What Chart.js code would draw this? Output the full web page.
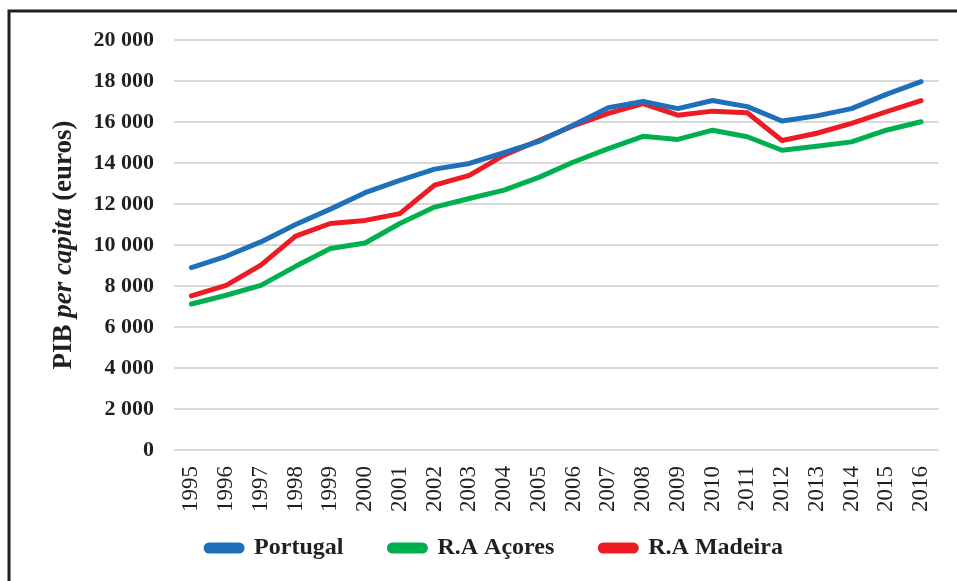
<!DOCTYPE html>
<html>
<head>
<meta charset="utf-8">
<script src="https://cdn.jsdelivr.net/npm/chart.js@4"></script>
<style>
  html, body { margin: 0; padding: 0; background: #fff; }
  #wrap { width: 957px; height: 581px; position: relative; }
</style>
</head>
<body>
<div id="wrap"><canvas id="pibChart"></canvas></div>
<script>
const years = ["1995", "1996", "1997", "1998", "1999", "2000", "2001", "2002", "2003", "2004", "2005",
  "2006", "2007", "2008", "2009", "2010", "2011", "2012", "2013", "2014", "2015", "2016"];
const portugal = [8900, 9450, 10150, 11000, 11750, 12550, 13150, 13700, 13980, 14500, 15050,
  15850, 16700, 17000, 16650, 17050, 16750, 16050, 16300, 16650, 17350, 17970];
const acores = [7120, 7550, 8030, 8960, 9830, 10100, 11050, 11850, 12270, 12680, 13300,
  14050, 14700, 15300, 15150, 15600, 15280, 14620, 14820, 15030, 15600, 16010];
const madeira = [7520, 8030, 9020, 10430, 11050, 11200, 11530, 12920, 13400, 14380, 15100,
  15820, 16420, 16900, 16330, 16530, 16450, 15100, 15450, 15930, 16500, 17040];
const yTicks = [0, 2000, 4000, 6000, 8000, 10000, 12000, 14000, 16000, 18000, 20000];

const serif = "'Liberation Serif', 'Times New Roman', serif";

// frame lines + rotated y title with italic part
const framePlugin = {
  id: "frame",
  afterDraw(chart) {
    const ctx = chart.ctx;
    ctx.save();
    ctx.strokeStyle = "#231f20";
    ctx.lineWidth = 3;
    ctx.beginPath();
    ctx.moveTo(9, 581);
    ctx.lineTo(9, 11);
    ctx.lineTo(957, 11);
    ctx.stroke();

    const parts = [
      { t: "PIB ", f: "bold 27px " + serif },
      { t: "per capita", f: "italic bold 27px " + serif },
      { t: " (euros)", f: "bold 27px " + serif },
    ];
    let total = 0;
    parts.forEach((p) => { ctx.font = p.f; p.w = ctx.measureText(p.t).width; total += p.w; });
    ctx.translate(64, 245);
    ctx.rotate(-Math.PI / 2);
    ctx.fillStyle = "#231f20";
    ctx.textBaseline = "middle";
    let x = -total / 2;
    parts.forEach((p) => { ctx.font = p.f; ctx.fillText(p.t, x, 0); x += p.w; });
    ctx.restore();
  },
};

function makeSet(label, data, color) {
  return {
    label: label,
    data: data,
    borderColor: color,
    backgroundColor: color,
    borderWidth: 5,
    pointRadius: 0,
    tension: 0,
    borderCapStyle: "round",
    borderJoinStyle: "round",
  };
}

new Chart(document.getElementById("pibChart"), {
  type: "line",
  data: {
    labels: years,
    datasets: [
      makeSet("Portugal", portugal, "#1f70ba"),
      makeSet("R.A Açores", acores, "#00b04f"),
      makeSet("R.A Madeira", madeira, "#ed1c24"),
    ],
  },
  options: {
    responsive: true,
    maintainAspectRatio: false,
    animation: false,
    layout: { padding: { top: 40, right: 17, bottom: 11, left: 49 } },
    plugins: {
      tooltip: { enabled: false },
      legend: {
        position: "bottom",
        labels: {
          color: "#231f20",
          font: { family: serif, size: 24, weight: "bold" },
          boxWidth: 36,
          boxHeight: 6,
          useBorderRadius: true,
          borderRadius: 3,
          padding: 10,
          // wider gaps between items without growing the legend height
          generateLabels: (chart) =>
            Chart.defaults.plugins.legend.labels.generateLabels(chart).map((item, i, all) => {
              if (i < all.length - 1) item.text += "      ";
              return item;
            }),
        },
      },
    },
    scales: {
      x: {
        offset: true,
        grid: { display: false },
        border: { display: false },
        ticks: {
          color: "#231f20",
          font: { family: serif, size: 23 },
          minRotation: 90,
          maxRotation: 90,
          autoSkip: false,
          padding: 8,
        },
        afterFit: (scale) => { scale.height = 76; },
      },
      y: {
        min: 0,
        max: 20000,
        grid: { color: "#d9d9d9", lineWidth: 2, drawTicks: false },
        border: { display: false },
        afterBuildTicks: (scale) => { scale.ticks = yTicks.map((v) => ({ value: v })); },
        ticks: {
          color: "#231f20",
          font: { family: serif, size: 22, weight: "bold" },
          padding: 20,
          callback: (v) => String(v).replace(/\B(?=(\d{3})+(?!\d))/g, " "),
        },
        afterFit: (scale) => { scale.width = 125; },
      },
    },
  },
  plugins: [framePlugin],
});
</script>
</body>
</html>
